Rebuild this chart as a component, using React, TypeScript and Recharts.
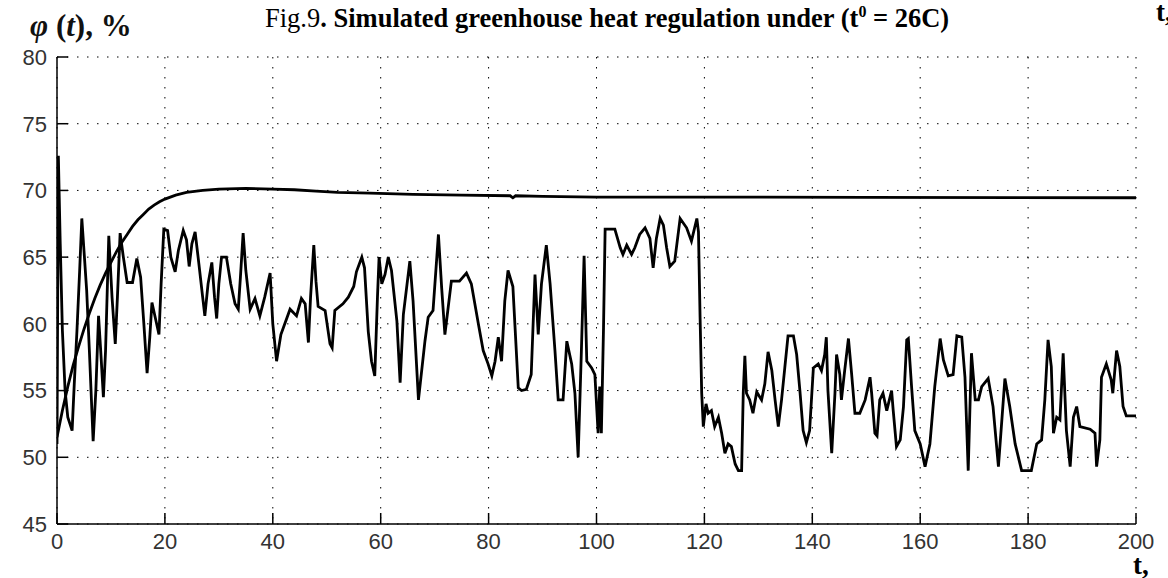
import { CartesianGrid, Line, LineChart, XAxis, YAxis } from "recharts";

const xTicks = [0, 20, 40, 60, 80, 100, 120, 140, 160, 180, 200];
const yTicks = [45, 50, 55, 60, 65, 70, 75, 80];

// model response [t, phi %]
const phiModel: [number, number][] = [
  [0, 51.5], [1, 53.5], [2, 55.3], [3, 56.9], [4, 58.3], [5, 59.6], [6, 60.8],
  [7, 61.9], [8, 62.9], [9, 63.8], [10, 64.6], [11, 65.4], [12, 66.1], [13, 66.7],
  [14, 67.3], [15, 67.8], [16, 68.2], [17, 68.6], [18, 68.9], [19, 69.15], [20, 69.35],
  [22, 69.65], [24, 69.85], [27, 70.0], [30, 70.1], [35, 70.15], [40, 70.1], [44, 70.05],
  [48, 69.95], [52, 69.85], [58, 69.8], [66, 69.7], [75, 69.65], [84, 69.6], [84.5, 69.45],
  [85, 69.6], [90, 69.55], [100, 69.5], [120, 69.5], [150, 69.48], [200, 69.45],
];

// measured humidity [t, phi %]
const phiMeasured: [number, number][] = [
  [0, 51], [0.25, 72.6], [0.6, 66], [1.0, 59.5], [1.5, 55], [2.0, 53], [2.4, 52.5], [2.8, 52],
  [3.2, 55.5], [3.7, 59.5], [4.2, 64], [4.6, 67.9], [5.0, 65.5], [5.5, 62.5], [6.0, 58], [6.7, 51.2],
  [7.2, 55], [7.7, 60.6], [8.1, 58], [8.6, 54.5], [9.0, 58], [9.6, 66.6], [10.2, 62], [10.8, 58.5],
  [11.2, 62], [11.7, 66.8], [12.3, 65], [13, 63.1], [14, 63.1], [14.8, 64.9], [15.5, 63.5], [16.1, 60],
  [16.7, 56.3], [17.2, 59], [17.6, 61.6], [18.2, 60.5], [18.9, 59.2], [19.3, 63], [19.8, 67.1], [20.5, 67],
  [21.1, 65], [21.9, 63.9], [22.5, 65.5], [23.4, 67], [24.0, 66.3], [24.5, 64.3], [25.0, 66], [25.6, 66.9],
  [26.3, 64.5], [27.0, 62], [27.4, 60.6], [28.0, 63], [28.7, 64.6], [29.2, 62], [29.6, 60.4], [30.0, 63],
  [30.5, 65], [31.4, 65], [32.2, 63], [33.0, 61.5], [33.6, 61.1], [34.0, 63.5], [34.5, 66.8], [35.0, 64],
  [35.8, 61.1], [36.7, 61.9], [37.6, 60.6], [38.5, 62], [39.5, 63.8], [40.0, 60], [40.7, 57.2], [41.5, 59.2],
  [43.2, 61.1], [44.4, 60.6], [45.3, 61.9], [46.0, 61.5], [46.6, 58.6], [47.0, 62], [47.6, 65.9], [48.0, 63.2],
  [48.4, 61.3], [49.7, 61.0], [50.6, 58.5], [51.0, 58.2], [51.5, 61], [53, 61.5], [54, 62], [55, 62.8],
  [55.5, 63.9], [56.5, 65], [57.0, 64.2], [57.7, 59.4], [58.3, 57.2], [58.9, 56.1], [59.4, 62], [59.7, 65],
  [60.2, 63], [60.8, 63.7], [61.4, 65], [62.0, 64], [63.0, 60.2], [63.6, 55.6], [64.2, 60.7], [65.4, 64.7],
  [66.0, 61.7], [67.0, 54.3], [68.2, 58.7], [68.8, 60.5], [69.7, 61], [70.7, 66.7], [71.3, 62.7], [71.9, 59.2],
  [73.1, 63.2], [74.6, 63.2], [75.9, 63.8], [76.8, 63], [78.1, 60], [79.0, 58], [79.9, 57], [80.6, 56.1],
  [81.2, 57.2], [81.8, 59], [82.4, 57.2], [83.0, 61.7], [83.6, 64], [84.5, 62.8], [85.5, 55.2], [86.1, 55],
  [87.0, 55.1], [87.9, 56.2], [88.6, 63.7], [89.2, 59.2], [89.8, 63], [90.7, 65.9], [91.4, 63], [92.3, 58],
  [92.9, 54.3], [93.8, 54.3], [94.5, 58.7], [95.4, 57], [96.0, 54.8], [96.6, 50], [97.2, 58], [97.7, 65.1],
  [98.2, 57.2], [99.1, 56.7], [99.7, 56.2], [100.3, 51.8], [100.6, 55.3], [100.9, 51.8], [101.3, 59.7], [101.6, 67.1],
  [103.4, 67.1], [104.4, 65.7], [104.9, 65.2], [105.6, 65.9], [106.5, 65.2], [107.1, 65.7], [108, 66.7], [109, 67.2],
  [109.9, 66.4], [110.5, 64.2], [111.1, 66.4], [111.8, 67.9], [112.4, 67.4], [113, 65.7], [113.6, 64.3], [114.5, 64.7],
  [115.5, 67.9], [116.7, 67.2], [117.6, 66.2], [118.6, 67.9], [118.9, 66.9], [119.2, 60.5], [119.5, 54.8], [119.8, 52.3],
  [120.3, 54], [120.7, 53.3], [121.3, 53.5], [121.9, 52.3], [122.6, 53], [123.2, 51.8], [123.8, 50.3], [124.4, 51],
  [125.0, 50.8], [125.7, 49.5], [126.3, 49], [126.9, 49], [127.2, 54.8], [127.5, 57.6], [127.8, 54.8], [128.4, 54.3],
  [129.0, 53.3], [129.7, 54.9], [130.6, 54.3], [131.2, 55.5], [131.8, 57.9], [132.5, 56.5], [133.1, 54.3], [133.7, 52.3],
  [134.3, 54.3], [134.9, 56.7], [135.5, 59.1], [136.5, 59.1], [137.1, 57.7], [137.7, 55], [138.3, 52], [138.9, 51.1],
  [139.5, 52], [140.2, 56.7], [141.1, 57], [141.7, 56.5], [142.3, 57.7], [142.6, 59], [142.9, 55], [143.6, 50.3],
  [144.2, 54.8], [144.5, 57.7], [145.1, 56.2], [145.4, 54.3], [146.0, 56.5], [146.7, 58.9], [147.3, 56.2], [147.9, 53.3],
  [148.8, 53.3], [149.8, 54.3], [150.7, 56], [151.0, 54.8], [151.6, 51.8], [152.0, 51.6], [152.5, 54.3], [153.1, 54.8],
  [153.8, 53.5], [154.7, 55], [155.0, 53.5], [155.6, 50.8], [156.3, 51.3], [156.9, 53.8], [157.5, 58.8], [157.8, 58.9],
  [158.4, 55.3], [159.0, 52], [160.0, 51], [160.9, 49.3], [161.8, 51], [162.7, 55.3], [163.7, 58.9], [164.3, 57.3],
  [165.2, 56.1], [166.1, 56.2], [166.8, 59.1], [167.7, 59], [168.3, 56], [168.9, 49], [169.5, 57.8], [170.2, 54.3],
  [170.8, 54.3], [171.4, 55.3], [172.6, 55.9], [173.5, 53.8], [174.5, 49.3], [175.7, 55.9], [176.6, 53.8], [177.6, 51],
  [178.8, 49], [180.6, 49], [181.6, 51], [182.5, 51.3], [183.1, 54.3], [183.7, 58.8], [184.3, 56.8], [184.7, 51.8],
  [185.3, 53], [185.9, 52.8], [186.5, 57.8], [187.1, 52], [187.8, 49.3], [188.4, 53], [189.0, 53.8], [189.6, 52.3],
  [191.5, 52.1], [192.4, 51.8], [192.7, 49.3], [193.3, 51.3], [193.6, 56], [194.5, 57], [195.4, 55.8], [195.7, 54.8],
  [196.4, 58], [197.0, 56.8], [197.6, 53.8], [198.2, 53.1], [200, 53.1],
];

const toPoints = (rows: [number, number][]) => rows.map(([t, v]) => ({ t, v }));

const axisStroke = { stroke: "#000", strokeWidth: 1.5 };
const tickFont = { fill: "#333", fontSize: 22, fontFamily: "'Liberation Sans', Arial, sans-serif" };
const serif = "'Liberation Serif', 'Times New Roman', serif";

export default function App() {
  return (
    <div
      style={{
        position: "absolute",
        left: 0,
        top: 0,
        width: 1168,
        height: 578,
        overflow: "hidden",
        background: "#fff",
      }}
    >
      <LineChart width={1168} height={578} margin={{ top: 57, right: 32, left: 0, bottom: 0 }}>
        <CartesianGrid stroke="#000" strokeWidth={1} strokeDasharray="1.5 8.5" />
        <XAxis
          dataKey="t"
          type="number"
          domain={[0, 200]}
          ticks={xTicks}
          allowDataOverflow
          height={54}
          tickSize={-11}
          tickMargin={20}
          axisLine={axisStroke}
          tickLine={axisStroke}
          tick={tickFont}
        />
        <XAxis
          xAxisId="top"
          orientation="top"
          dataKey="t"
          type="number"
          domain={[0, 200]}
          ticks={xTicks}
          allowDataOverflow
          height={0}
          tickSize={-11}
          axisLine={axisStroke}
          tickLine={axisStroke}
          tick={false}
        />
        <YAxis
          type="number"
          domain={[45, 80]}
          ticks={yTicks}
          allowDataOverflow
          width={57}
          tickSize={-11}
          tickMargin={21}
          axisLine={axisStroke}
          tickLine={axisStroke}
          tick={tickFont}
        />
        <YAxis
          yAxisId="right"
          orientation="right"
          type="number"
          domain={[45, 80]}
          ticks={yTicks}
          allowDataOverflow
          width={0}
          tickSize={-11}
          axisLine={axisStroke}
          tickLine={axisStroke}
          tick={false}
        />
        <Line
          data={toPoints(phiModel)}
          dataKey="v"
          type="linear"
          stroke="#000"
          strokeWidth={2.8}
          dot={false}
          isAnimationActive={false}
        />
        <Line
          data={toPoints(phiMeasured)}
          dataKey="v"
          type="linear"
          stroke="#000"
          strokeWidth={2.8}
          strokeLinejoin="miter"
          dot={false}
          isAnimationActive={false}
        />
      </LineChart>

      <div
        style={{
          position: "absolute",
          left: 265,
          top: 5,
          fontFamily: serif,
          fontSize: 26.5,
          lineHeight: "27px",
          color: "#000",
          whiteSpace: "nowrap",
        }}
      >
        Fig.9<b>. Simulated greenhouse heat regulation under (t<sup style={{ fontSize: 16, lineHeight: 0 }}>0</sup> = 26C)</b>
      </div>

      <div
        style={{
          position: "absolute",
          left: 30,
          top: 10,
          fontFamily: serif,
          fontSize: 31,
          lineHeight: "31px",
          fontWeight: "bold",
          color: "#111",
          whiteSpace: "nowrap",
        }}
      >
        <i>φ</i> (<i>t</i>), %
      </div>

      <div
        style={{
          position: "absolute",
          left: 1133,
          top: 552,
          fontFamily: serif,
          fontSize: 27,
          lineHeight: "27px",
          fontWeight: "bold",
          color: "#000",
          whiteSpace: "nowrap",
        }}
      >
        t,
      </div>

      <div
        style={{
          position: "absolute",
          left: 1156,
          top: -1,
          fontFamily: serif,
          fontSize: 27,
          lineHeight: "27px",
          fontWeight: "bold",
          color: "#000",
          whiteSpace: "nowrap",
        }}
      >
        t,
      </div>
    </div>
  );
}
